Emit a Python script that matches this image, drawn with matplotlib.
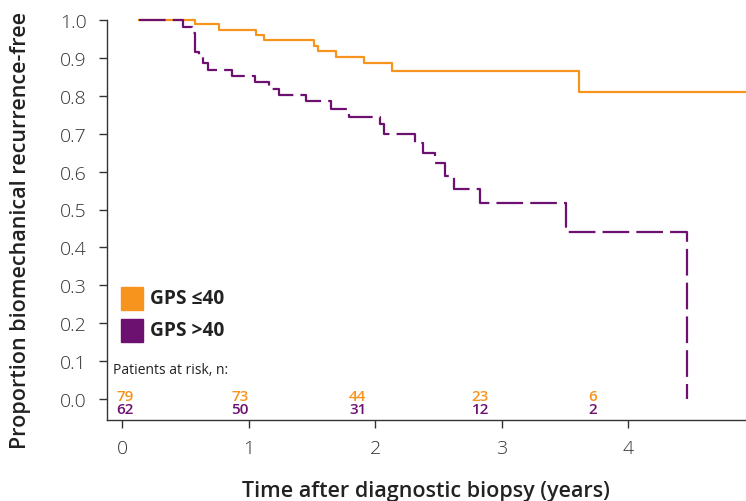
import matplotlib
matplotlib.use("Agg")
import matplotlib.pyplot as plt
from matplotlib.patches import Rectangle

# ---- data ----
low_times = [0.13, 0.577, 0.767, 1.057, 1.122, 1.518, 1.544, 1.692, 1.913, 2.134, 3.613, 4.93]
low_surv = [1.0, 0.988, 0.972, 0.961, 0.947, 0.932, 0.919, 0.903, 0.887, 0.866, 0.811, 0.811]

high_times = [0.13, 0.48, 0.555, 0.571, 0.609, 0.638, 0.675, 0.867, 1.046, 1.157, 1.236,
              1.452, 1.65, 1.789, 2.04, 2.07, 2.316, 2.38, 2.474, 2.553, 2.619, 2.83,
              3.51, 4.464]
high_surv = [1.0, 0.982, 0.966, 0.914, 0.904, 0.886, 0.868, 0.853, 0.837, 0.819, 0.802,
             0.785, 0.765, 0.743, 0.725, 0.700, 0.675, 0.650, 0.623, 0.588, 0.555, 0.517,
             0.441, 0.0]

risk_low = ["79", "73", "44", "23", "6"]
risk_high = ["62", "50", "31", "12", "2"]

x_ticks = [0, 1, 2, 3, 4]
y_ticks = [0.0, 0.1, 0.2, 0.3, 0.4, 0.5, 0.6, 0.7, 0.8, 0.9, 1.0]

legend_labels = ["GPS \u226440", "GPS >40"]

# ---- style / layout ----
ORANGE = "#F7941D"
PURPLE = "#6D1170"
AXC = "#333333"
TXT = "#222222"
risk_label_x = [0.02, 0.93, 1.86, 2.83, 3.72]

plt.rcParams['font.family'] = ['Open Sans', 'DejaVu Sans']

W, H = 746, 502
fig = plt.figure(figsize=(W / 100, H / 100), dpi=100)
ax = fig.add_axes([106.7 / W, 1 - 421 / H, 1 - 106.7 / W, 421 / H])

ax.step(low_times, low_surv, where='post', color=ORANGE, lw=1.6)
ax.step(high_times, high_surv, where='post', color=PURPLE, lw=1.6,
        linestyle=(0, (12, 3.2)))

ax.set_xlim(-0.123, 4.93)
ax.set_ylim(-0.055, 1.055)

for s in ['top', 'right']:
    ax.spines[s].set_visible(False)
ax.spines['left'].set_bounds(-0.055, 1.0)
for s in ['left', 'bottom']:
    ax.spines[s].set_color(AXC)
    ax.spines[s].set_linewidth(1.0)

ax.set_xticks(x_ticks)
ax.set_xticklabels([str(v) for v in x_ticks])
ax.set_yticks(y_ticks)
ax.set_yticklabels([f"{v:.1f}" for v in y_ticks])
ax.tick_params(axis='both', colors=AXC, length=5.5, width=1.0, labelsize=14,
               labelcolor='#333333')
ax.tick_params(axis='x', pad=8)
ax.tick_params(axis='y', pad=9)
for lab in ax.get_xticklabels() + ax.get_yticklabels():
    lab.set_fontweight('light')

ax.set_ylabel("Proportion biomechanical recurrence-free", fontsize=15.5,
              fontweight='semibold', color=TXT)
ax.yaxis.set_label_coords((31 - 106.7) / 639.3, (421 - 230.5) / 421)
ax.set_xlabel("Time after diagnostic biopsy (years)", fontsize=15.5,
              fontweight='semibold', color=TXT, labelpad=17)

# legend squares (figure pixel coords)
def px(x, y):
    return (x / W, 1 - y / H)

for (y0, col, lab) in [(288, ORANGE, legend_labels[0]), (320, PURPLE, legend_labels[1])]:
    fig.patches.append(Rectangle(px(121.3, y0 + 22.5), 21.5 / W, 22.5 / H,
                                 transform=fig.transFigure, color=col))
    fig.text(*px(150, y0 + 11.5), lab, fontsize=13.8, fontweight='bold',
             color=TXT, va='center', ha='left')

fig.text(*px(113, 370), "Patients at risk, n:", fontsize=10, color=TXT,
         va='center', ha='left')

trans = ax.get_xaxis_transform()
for xpos, a, b in zip(risk_label_x, risk_low, risk_high):
    ax.text(xpos, (421 - 397) / 421, a, transform=trans, ha='center',
            va='center', color=ORANGE, fontsize=11, fontweight='semibold')
    ax.text(xpos, (421 - 409.5) / 421, b, transform=trans, ha='center',
            va='center', color=PURPLE, fontsize=11, fontweight='semibold')

fig.savefig("out.png", dpi=100)
